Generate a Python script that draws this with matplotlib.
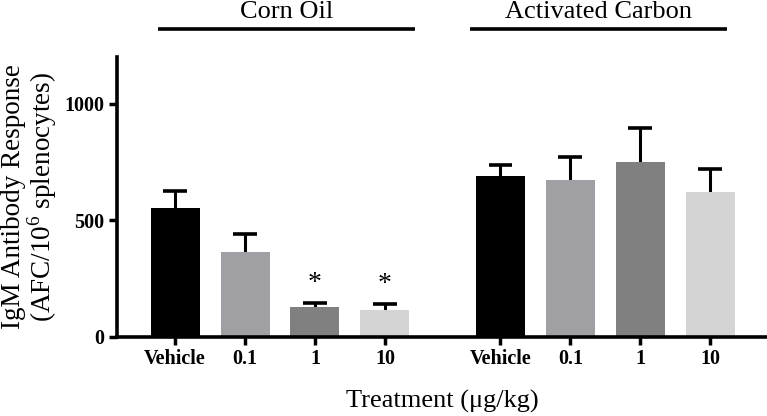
import numpy as np
import matplotlib.pyplot as plt

plt.rcParams['font.family'] = ['Liberation Serif', 'DejaVu Serif']

groups = ['Corn Oil', 'Activated Carbon']
doses = ['Vehicle', '0.1', '1', '10']
corn_mean = [551, 363, 128, 115]
corn_sem = [73, 77, 17, 27]
carbon_mean = [689, 674, 752, 620]
carbon_sem = [49, 99, 142, 99]
significant = [False, False, True, True]  # corn oil only

colors = ['#000000', '#a0a0a4', '#808080', '#d4d4d4']

fig = plt.figure(figsize=(7.67, 4.16), dpi=100)
ax = fig.add_axes([0.1525, 0.19, 0.8475, 0.673])

pos_corn = np.arange(4)
pos_carbon = np.arange(4) + 4.65
width = 0.7
cap = 0.17

for pos, mean, sem in [(pos_corn, corn_mean, corn_sem), (pos_carbon, carbon_mean, carbon_sem)]:
    mean = np.array(mean)
    top = mean + np.array(sem)
    ax.bar(pos, mean, width, color=colors, zorder=2)
    # upper error bars only
    ax.vlines(pos, mean, top, color='black', lw=2.2, zorder=1)
    ax.hlines(top, pos - cap, pos + cap, color='black', lw=2.6, zorder=1)

for p, m, s, sig in zip(pos_corn, corn_mean, corn_sem, significant):
    if sig:
        ax.text(p, m + s + 30, '*', ha='center', va='bottom', fontsize=20)

ax.set_xlim(-0.83, 8.46)
ax.set_ylim(0, 1200)
ax.set_yticks([0, 500, 1000])
ax.set_xticks(np.concatenate([pos_corn, pos_carbon]))
ax.set_xticklabels(doses * 2)
for lab in ax.get_xticklabels() + ax.get_yticklabels():
    lab.set_fontweight('bold')
    lab.set_fontsize(14.5)

ax.spines['top'].set_visible(False)
ax.spines['right'].set_visible(False)
ax.spines['left'].set_linewidth(2.6)
ax.spines['bottom'].set_linewidth(2.6)
ax.tick_params(axis='both', length=6, width=2.5, pad=3)

ax.set_ylabel('IgM Antibody Response\n(AFC/10$^{\\mathregular{6}}$ splenocytes)', fontsize=19.5,
              labelpad=4, linespacing=0.95)
ax.set_xlabel('Treatment (\u03bcg/kg)', fontsize=19, labelpad=15)

# group headers with lines above the bars
line_spans = [(-0.24, 3.43), (4.21, 7.89)]
for name, (x0, x1) in zip(groups, line_spans):
    ax.plot([x0, x1], [1322, 1322], color='black', lw=2.6, clip_on=False,
            solid_capstyle='butt')
    ax.text((x0 + x1) / 2, 1345, name, ha='center', va='bottom', fontsize=19)

fig.savefig('out.png', dpi=100)
